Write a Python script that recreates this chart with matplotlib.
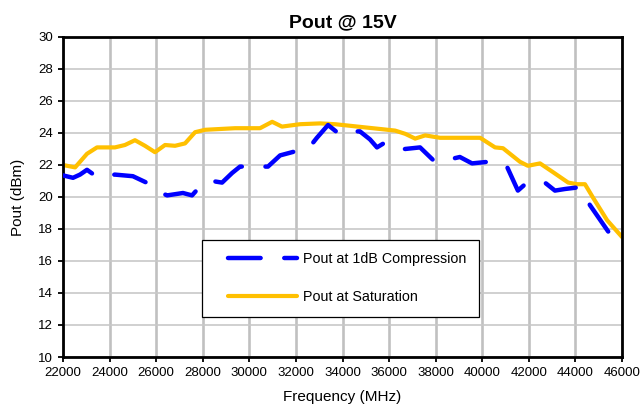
import numpy as np
import matplotlib.pyplot as plt
from matplotlib.legend_handler import HandlerLine2D

plt.rcParams['font.family'] = ['Liberation Sans', 'DejaVu Sans']
plt.rcParams['lines.scale_dashes'] = False

#%% data
freq_1db = [22000, 22430, 22730, 23030, 23460, 23850, 24230, 25000, 25730,
            26160, 26470, 27150, 27540, 27970, 28400, 28830, 29260, 29600,
            30110, 30460, 30800, 31320, 32090, 32520, 32900, 33380, 33890,
            34320, 34750, 35180, 35480, 35820, 36250, 36680, 37330, 37970,
            38400, 38740, 39040, 39560, 40250, 40630, 41060, 41530, 41920,
            42310, 42690, 43120, 43550, 44110, 44410, 44620, 45570]
pout_1db = [21.35, 21.2, 21.4, 21.7, 21.25, 21.35, 21.4, 21.3, 20.8,
            20.3, 20.1, 20.25, 20.1, 20.8, 21.0, 20.9, 21.5, 21.9,
            21.9, 21.9, 21.9, 22.6, 22.9, 23.0, 23.7, 24.5, 23.9,
            24.1, 24.1, 23.6, 23.1, 23.4, 23.1, 23.0, 23.1, 22.2,
            22.3, 22.4, 22.5, 22.1, 22.2, 22.2, 21.9, 20.4, 20.9,
            20.9, 20.9, 20.4, 20.5, 20.6, 20.2, 19.5, 17.5]

freq_sat = [22000, 22520, 23030, 23460, 24230, 24660, 25090, 25520, 25950,
            26380, 26810, 27240, 27670, 28100, 28740, 29390, 30030, 30460,
            30980, 31400, 32180, 33040, 33680, 34330, 34970, 35620, 36260,
            36690, 37120, 37550, 38190, 39050, 39910, 40550, 40890, 41620,
            41960, 42480, 43040, 43690, 44070, 44410, 44760, 45360, 46000]
pout_sat = [22.0, 21.85, 22.7, 23.1, 23.1, 23.25, 23.55, 23.2, 22.8,
            23.25, 23.2, 23.35, 24.05, 24.2, 24.25, 24.3, 24.3, 24.3,
            24.7, 24.4, 24.55, 24.6, 24.55, 24.45, 24.35, 24.25, 24.15,
            23.95, 23.65, 23.85, 23.7, 23.7, 23.7, 23.1, 23.05, 22.2,
            21.95, 22.1, 21.55, 20.9, 20.8, 20.8, 19.95, 18.55, 17.5]

#%% plot
fig = plt.figure(figsize=(6.4, 4.09), dpi=100)
ax = fig.add_axes([63/640, 1-357/409, 559/640, 320/409])

ax.plot(freq_1db, pout_1db, color='#0000FF', lw=3.2, dashes=(23.5, 17.0),
        dash_capstyle='round', dash_joinstyle='round',
        label='Pout at 1dB Compression', zorder=3)
ax.plot(freq_sat, pout_sat, color='#FFC000', lw=3.0,
        solid_capstyle='round', solid_joinstyle='round',
        label='Pout at Saturation', zorder=2)

ax.set_xlim(22000, 46000)
ax.set_ylim(10, 30)
ax.set_xticks(np.arange(22000, 46001, 2000))
ax.set_yticks(np.arange(10, 31, 2))

ax.grid(axis='x', color='#C0C0C0', lw=1.9)
ax.grid(axis='y', color='#C8C8C8', lw=1.2)
ax.set_axisbelow(True)
for s in ax.spines.values():
    s.set_linewidth(2.0)
    s.set_color('black')
ax.tick_params(direction='out', length=3.5, width=1.3, pad=3.5, labelsize=9.5)

ax.set_xlabel('Frequency (MHz)', fontsize=11, labelpad=8)
ax.set_ylabel('Pout (dBm)', fontsize=11, labelpad=10)
ax.set_title('Pout @ 15V', fontsize=14, fontweight='bold', pad=7)

hl = HandlerLine2D(xpad=0.95)
leg = ax.legend(loc='upper left', bbox_to_anchor=(0.249, 0.366), borderaxespad=0,
                fontsize=10.3, handlelength=5.8, handletextpad=0.4,
                labelspacing=1.7, borderpad=0.85, fancybox=False, framealpha=1,
                handler_map={ax.lines[0]: hl, ax.lines[1]: hl})
leg.get_frame().set_edgecolor('black')
leg.get_frame().set_linewidth(0.9)

fig.savefig('out.png', dpi=100)
